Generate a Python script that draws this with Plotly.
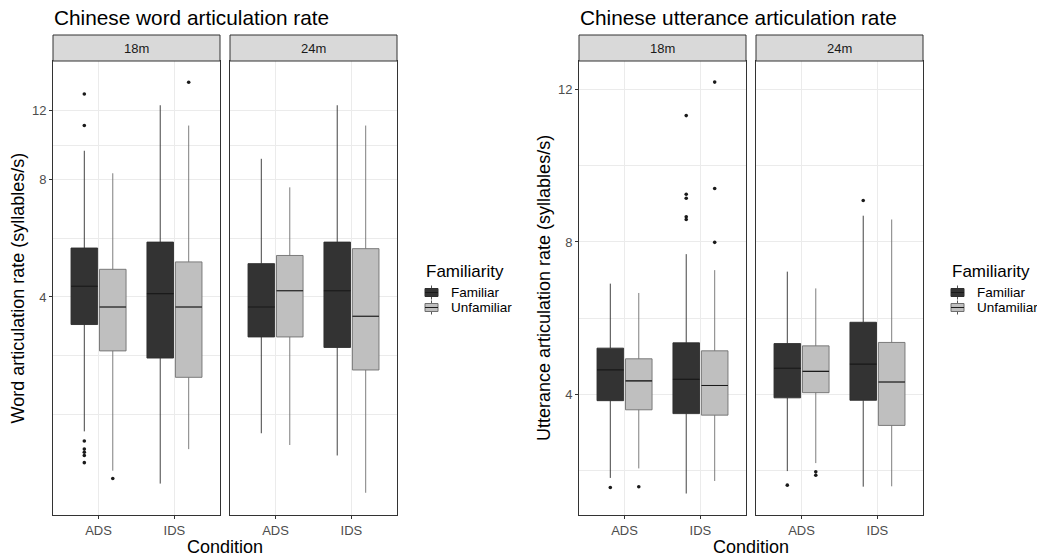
import math
import plotly.graph_objects as go

W, H = 1037, 557

ages = ["18m", "24m"]
familiarity = ["Familiar", "Unfamiliar"]
conditions = ["ADS", "IDS"]

# Order of 8 groups: (18m, Familiar, ADS), (18m, Familiar, IDS), (18m, Unfamiliar, ADS), (18m, Unfamiliar, IDS),
#                    (24m, Familiar, ADS), (24m, Familiar, IDS), (24m, Unfamiliar, ADS), (24m, Unfamiliar, IDS)
word_lower = [1.81, 1.33, 1.435, 1.63, 1.79, 1.57, 1.67, 1.26]
word_q1 = [3.40, 2.79, 2.91, 2.49, 3.16, 2.97, 3.16, 2.60]
word_median = [4.26, 4.08, 3.77, 3.77, 3.77, 4.15, 4.15, 3.57]
word_q3 = [5.34, 5.53, 4.71, 4.92, 4.87, 5.53, 5.11, 5.32]
word_upper = [9.48, 12.4, 8.30, 11.0, 9.04, 12.4, 7.64, 11.0]
word_outliers = [[13.25, 11.0, 1.71, 1.63, 1.60, 1.57, 1.505], [], [1.37], [14.2], [], [], [], []]

utt_lower = [1.80, 1.39, 2.05, 1.72, 1.98, 1.57, 2.19, 1.58]
utt_q1 = [3.83, 3.49, 3.59, 3.45, 3.905, 3.84, 4.04, 3.18]
utt_median = [4.64, 4.39, 4.35, 4.23, 4.68, 4.79, 4.60, 4.32]
utt_q3 = [5.21, 5.35, 4.93, 5.14, 5.33, 5.89, 5.27, 5.36]
utt_upper = [6.905, 7.68, 6.66, 7.26, 7.22, 8.69, 6.78, 8.59]
utt_outliers = [[1.55], [11.32, 9.255, 9.15, 8.66, 8.59], [1.57], [12.2, 9.405, 7.99],
                [1.61], [9.09], [1.96, 1.87], []]

y_ticks = [4, 8, 12]
word_minor = [2, math.sqrt(8), math.sqrt(32), math.sqrt(96)]
utt_minor = [2, 6, 10]

fill_colors = {"Familiar": "#333333", "Unfamiliar": "#BFBFBF"}
line_colors = {"Familiar": "#2e2e2e", "Unfamiliar": "#6f6f6f"}
FONT = "Liberation Sans, Arial, sans-serif"

def px(x):
    return x / W

def py(y):
    return 1 - y / H

charts = [
    dict(lower=word_lower, q1=word_q1, med=word_median, q3=word_q3, upper=word_upper, out=word_outliers),
    dict(lower=utt_lower, q1=utt_q1, med=utt_median, q3=utt_q3, upper=utt_upper, out=utt_outliers),
]

fig = go.Figure()
dodge = 0.1875
for c, ch in enumerate(charts):
    for ai, age in enumerate(ages):
        k = c * 2 + ai + 1
        xa = "x" if k == 1 else f"x{k}"
        ya = "y" if k == 1 else f"y{k}"
        for fi, fam in enumerate(familiarity):
            off = -dodge if fi == 0 else dodge
            idx = [ai * 4 + fi * 2 + ci for ci in range(len(conditions))]
            xs = [ci + 1 + off for ci in range(len(conditions))]
            fig.add_trace(go.Box(
                x=xs,
                q1=[ch["q1"][i] for i in idx],
                median=[ch["med"][i] for i in idx],
                q3=[ch["q3"][i] for i in idx],
                lowerfence=[ch["lower"][i] for i in idx],
                upperfence=[ch["upper"][i] for i in idx],
                width=0.35, whiskerwidth=0, boxpoints=False,
                fillcolor=fill_colors[fam],
                line=dict(color=line_colors[fam], width=0.9),
                xaxis=xa, yaxis=ya, showlegend=False, hoverinfo="skip",
            ))
            # median line drawn darker
            meds = [ch["med"][i] for i in idx]
            fig.add_trace(go.Box(
                x=xs, q1=meds, median=meds, q3=meds, lowerfence=meds, upperfence=meds,
                width=0.35, whiskerwidth=0, boxpoints=False,
                fillcolor="rgba(0,0,0,0)",
                line=dict(color="#1a1a1a", width=1.1),
                xaxis=xa, yaxis=ya, showlegend=False, hoverinfo="skip",
            ))
            ox, oy = [], []
            for i, xv in zip(idx, xs):
                for v in ch["out"][i]:
                    ox.append(xv)
                    oy.append(v)
            if ox:
                fig.add_trace(go.Scatter(
                    x=ox, y=oy, mode="markers",
                    marker=dict(size=3.6, color="#1a1a1a"),
                    xaxis=xa, yaxis=ya, showlegend=False, hoverinfo="skip",
                ))

panel_x = [(53, 220), (230, 397), (579, 746), (756, 923)]
panel_top, panel_bot = 61, 515
strip_top = 35

grid = "#EBEBEB"
border = "#333333"
layout = dict(
    width=W, height=H, margin=dict(l=0, r=0, t=0, b=0),
    paper_bgcolor="white", plot_bgcolor="white",
    font=dict(family=FONT, color="#1a1a1a"),
    boxmode="overlay",
)
for k in range(1, 5):
    x0, x1 = panel_x[k - 1]
    xname = "xaxis" if k == 1 else f"xaxis{k}"
    yname = "yaxis" if k == 1 else f"yaxis{k}"
    layout[xname] = dict(
        domain=[px(x0), px(x1)], anchor="y" if k == 1 else f"y{k}",
        range=[0.4, 2.6], tickmode="array", tickvals=[1, 2], ticktext=conditions,
        showgrid=True, gridcolor=grid, gridwidth=1, zeroline=False,
        showline=True, mirror=True, linecolor=border, linewidth=1,
        ticks="outside", ticklen=3, tickcolor=border, tickwidth=1,
        tickfont=dict(size=13, color="#4D4D4D", family=FONT),
    )
    is_word = k <= 2
    ydict = dict(
        domain=[py(panel_bot), py(panel_top)], anchor="x" if k == 1 else f"x{k}",
        tickmode="array", tickvals=y_ticks, ticktext=[str(t) for t in y_ticks],
        showgrid=True, gridcolor=grid, gridwidth=1, zeroline=False,
        showline=True, mirror=True, linecolor=border, linewidth=1,
        tickfont=dict(size=13, color="#4D4D4D", family=FONT),
        minor=dict(tickmode="array", tickvals=word_minor if is_word else utt_minor,
                   showgrid=True, gridcolor=grid, gridwidth=0.6, ticks=""),
    )
    if is_word:
        ydict.update(type="log", range=[math.log10(1.105), math.log10(16.1)])
    else:
        ydict.update(type="linear", range=[0.826, 12.755])
    if k in (1, 3):
        ydict.update(ticks="outside", ticklen=3, tickcolor=border, tickwidth=1, showticklabels=True)
    else:
        ydict.update(ticks="", showticklabels=False)
    layout[yname] = ydict

shapes = []
annotations = []
for k in range(4):
    x0, x1 = panel_x[k]
    shapes.append(dict(type="rect", xref="paper", yref="paper",
                       x0=px(x0), x1=px(x1), y0=py(panel_top), y1=py(strip_top),
                       fillcolor="#D9D9D9", line=dict(color=border, width=1)))
    annotations.append(dict(text=ages[k % 2], x=px((x0 + x1) / 2), y=py((strip_top + panel_top) / 2),
                            xref="paper", yref="paper", showarrow=False,
                            xanchor="center", yanchor="middle",
                            font=dict(size=13, color="#1A1A1A", family=FONT)))

titles = ["Chinese word articulation rate", "Chinese utterance articulation rate"]
ytitles = ["Word articulation rate (syllables/s)", "Utterance articulation rate (syllables/s)"]
title_x = [52, 578]
ytitle_x = [17.5, 544]
xtitle_x = [225, 751]
legend_x = [425, 951]
for c in range(2):
    annotations.append(dict(text=titles[c], x=px(title_x[c]), y=py(18), xref="paper", yref="paper",
                            xanchor="left", yanchor="middle", showarrow=False,
                            font=dict(size=20.8, color="black", family=FONT)))
    annotations.append(dict(text=ytitles[c], x=px(ytitle_x[c]), y=py((panel_top + panel_bot) / 2),
                            xref="paper", yref="paper", textangle=-90, showarrow=False,
                            xanchor="center", yanchor="middle",
                            font=dict(size=18, color="black", family=FONT)))
    annotations.append(dict(text="Condition", x=px(xtitle_x[c]), y=py(547), xref="paper", yref="paper",
                            xanchor="center", yanchor="middle", showarrow=False,
                            font=dict(size=18, color="black", family=FONT)))
    lx = legend_x[c]
    annotations.append(dict(text="Familiarity", x=px(lx - 1), y=py(271), xref="paper", yref="paper",
                            xanchor="left", yanchor="middle", showarrow=False,
                            font=dict(size=17, color="black", family=FONT)))
    for fi, fam in enumerate(familiarity):
        cy = 292.5 + fi * 15
        cx = lx + 6.5
        shapes.append(dict(type="line", xref="paper", yref="paper", x0=px(cx), x1=px(cx),
                           y0=py(cy - 7), y1=py(cy + 7), line=dict(color="#555555", width=1)))
        shapes.append(dict(type="rect", xref="paper", yref="paper", x0=px(lx), x1=px(lx + 13),
                           y0=py(cy + 4), y1=py(cy - 4), fillcolor=fill_colors[fam],
                           line=dict(color=line_colors[fam], width=1)))
        shapes.append(dict(type="line", xref="paper", yref="paper", x0=px(lx), x1=px(lx + 13),
                           y0=py(cy), y1=py(cy), line=dict(color="#1a1a1a", width=1)))
        annotations.append(dict(text=fam, x=px(lx + 24), y=py(cy), xref="paper", yref="paper",
                                xanchor="left", yanchor="middle", showarrow=False,
                                font=dict(size=13.5, color="black", family=FONT)))

layout["shapes"] = shapes
layout["annotations"] = annotations
fig.update_layout(**layout)
fig.write_html("out.html", config={"displayModeBar": False},
               post_script="document.body.style.margin='0';document.body.style.overflow='hidden';")
